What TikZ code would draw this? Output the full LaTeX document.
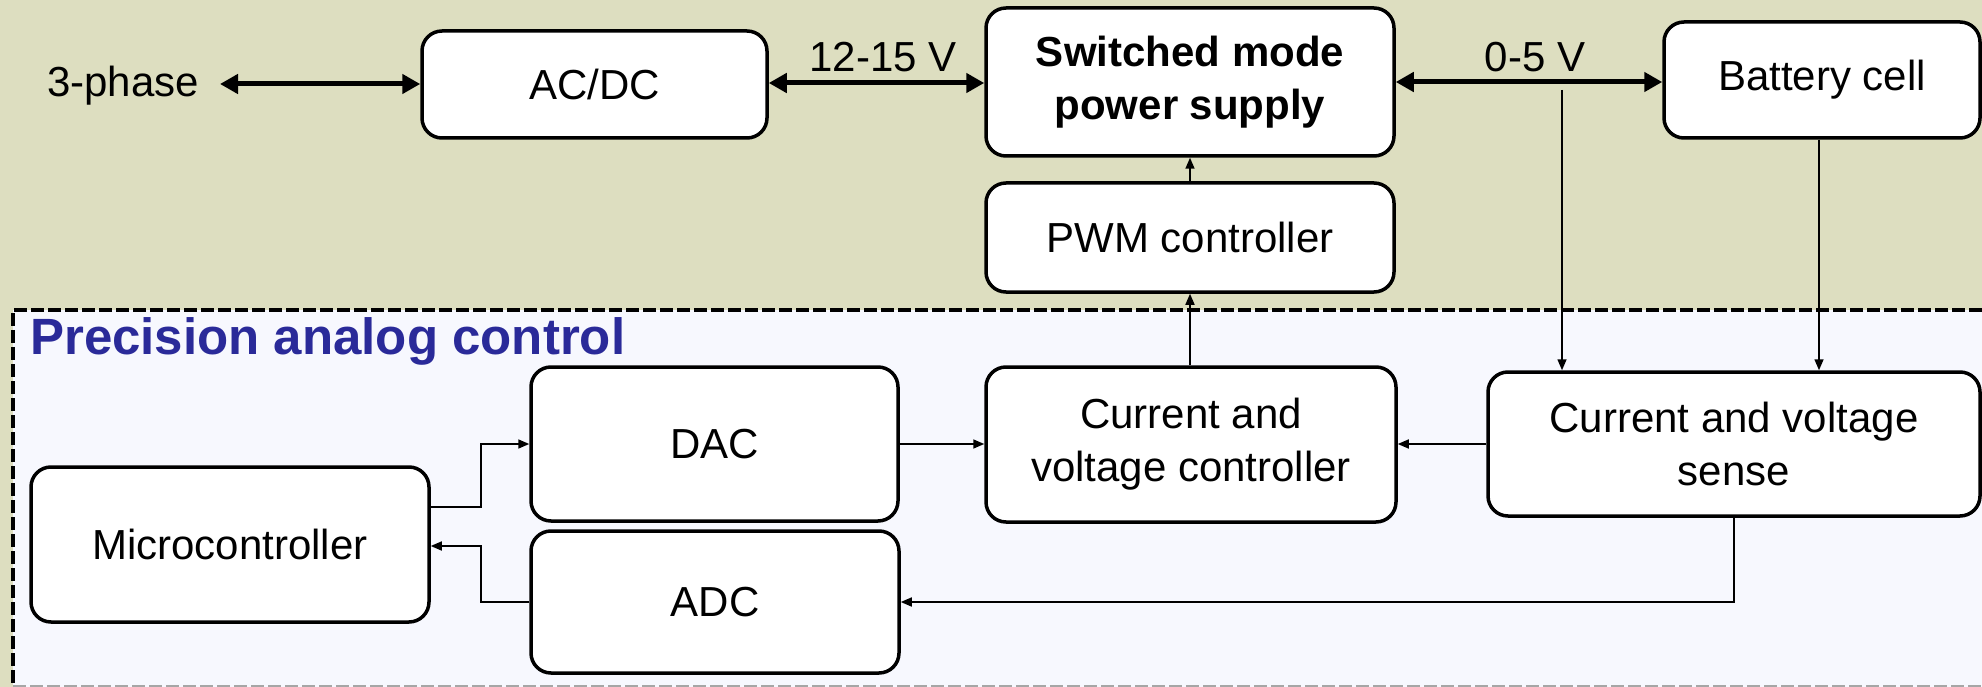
\documentclass[tikz,border=0pt]{standalone}
\usepackage{fontspec}
\setmainfont{Liberation Sans}
\usetikzlibrary{arrows.meta,calc}
\definecolor{topbg}{RGB}{221,222,192}
\definecolor{lowbg}{RGB}{247,248,254}
\definecolor{titleblue}{RGB}{42,42,153}
\tikzset{
  blk/.style={draw=black, line width=3.5pt, fill=white, rounded corners=20pt,
    align=center, inner sep=0pt, font=\fontsize{42}{53}\selectfont},
  lbl/.style={font=\fontsize{42}{53}\selectfont, inner sep=0pt},
  thickarrow/.style={line width=5pt, {Triangle[length=18pt,width=19pt]}-{Triangle[length=18pt,width=19pt]}},
  thinarrow/.style={line width=1.6pt, -{Triangle[length=11pt,width=9pt]}},
  thinline/.style={line width=1.6pt}
}
\begin{document}
\begin{tikzpicture}[x=1pt,y=-1pt]
\useasboundingbox (0,0) rectangle (1982,687);
% backgrounds
\fill[topbg] (0,0) rectangle (1982,687);
\fill[lowbg] (13,310) rectangle (1982,687);
\draw[line width=4pt, dash pattern=on 13pt off 4pt] (1982,310) -- (13,310) -- (13,687);
\draw[line width=2pt, gray!70, dash pattern=on 13pt off 4pt] (13,686) -- (1982,686);
% title
\node[anchor=base west, inner sep=0pt, text=titleblue, font=\bfseries\fontsize{51}{60}\selectfont] (title) at (30,354) {Precision analog control};
% blocks
\node[blk, minimum width=345pt, minimum height=107pt] (acdc) at (594.5,84.5) {AC/DC};
\node[blk, minimum width=408pt, minimum height=148pt, font=\bfseries\fontsize{42}{53}\selectfont] (smps) at (1190,82) {Switched mode\\power supply};
\node[blk, minimum width=316pt, minimum height=116pt] (batt) at (1822,80) {Battery cell};
\node[blk, minimum width=408pt, minimum height=109pt] (pwm) at (1190,237.5) {PWM controller};
\node[blk, minimum width=367pt, minimum height=154pt] (dac) at (714.5,444) {DAC};
\node[blk, minimum width=368pt, minimum height=142pt] (adc) at (715,602) {ADC};
\node[blk, minimum width=398pt, minimum height=155pt] (micro) at (230,544.5) {Microcontroller};
\node[blk, minimum width=410pt, minimum height=155pt] (cvc) at (1191,444.5) {Current and\\voltage controller};
\node[blk, minimum width=492pt, minimum height=144pt] (cvs) at (1734,444) {Current and voltage\\sense};
% labels
\node[lbl, anchor=base] (phase) at (123,97) {3-phase};
\node[lbl, anchor=base] (v1215) at (883,72) {12-15 V};
\node[lbl, anchor=base] (v05) at (1535,72) {0-5 V};
\coordinate (phaseend) at (220,84);
\coordinate (tap) at (1562,84);
% thick power arrows
\draw[thickarrow] (phaseend) -- (acdc.west |- phaseend);
\draw[thickarrow] (acdc.east |- 0,83) -- (smps.west |- 0,83);
\draw[thickarrow] (smps.east |- 0,82) -- (batt.west |- 0,82);
% thin signal arrows
\draw[thinarrow] ([yshift=-6pt]tap) -- (tap |- cvs.north);
\draw[thinarrow] ([xshift=-3pt]batt.south) -- ([xshift=-3pt]batt.south |- cvs.north);
\draw[thinarrow] (pwm.north) -- (smps.south);
\draw[thinarrow] (cvc.north -| pwm.south) -- (pwm.south);
\draw[thinarrow] (dac.east) -- (cvc.west |- dac.east);
\draw[thinarrow] (cvs.west) -- (cvc.east |- cvs.west);
\draw[thinarrow] (cvs.south) |- (adc.east);
\draw[thinarrow] (micro.east |- 0,507) -- (481,507) |- (dac.west);
\draw[thinarrow] (adc.west) -| (481,546) -- (micro.east |- 0,546);
\end{tikzpicture}
\end{document}
